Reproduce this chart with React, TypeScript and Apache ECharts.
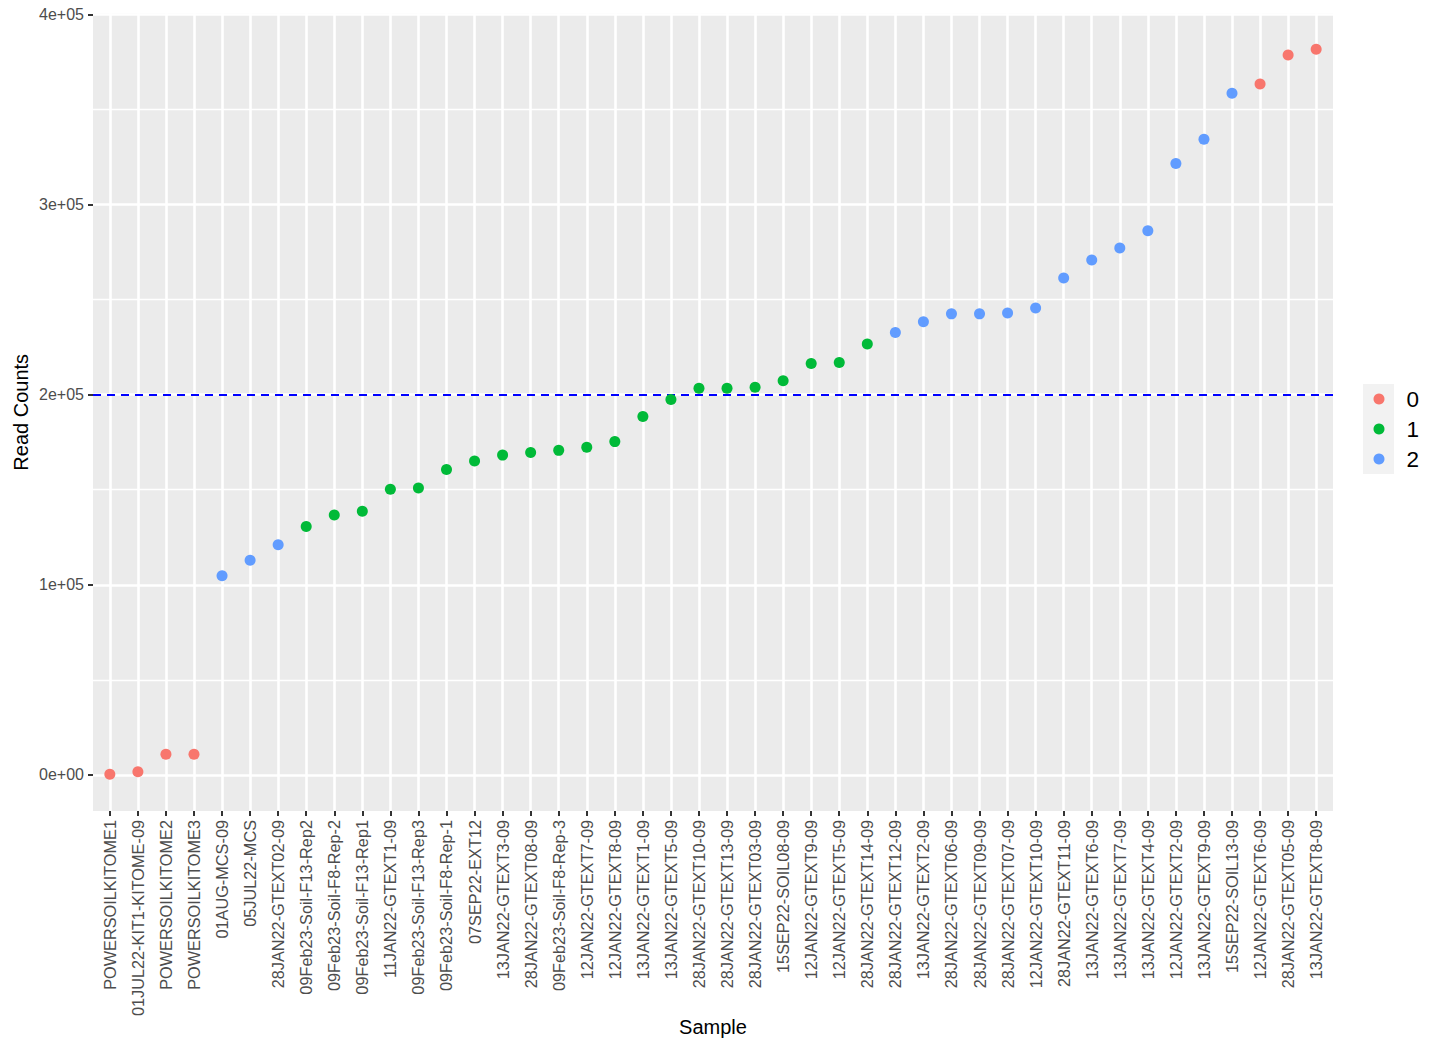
import React, { useEffect, useRef } from "react";
import * as echarts from "echarts";

const categories = [
  "POWERSOILKITOME1",
  "01JUL22-KIT1-KITOME-09",
  "POWERSOILKITOME2",
  "POWERSOILKITOME3",
  "01AUG-MCS-09",
  "05JUL22-MCS",
  "28JAN22-GTEXT02-09",
  "09Feb23-Soil-F13-Rep2",
  "09Feb23-Soil-F8-Rep-2",
  "09Feb23-Soil-F13-Rep1",
  "11JAN22-GTEXT1-09",
  "09Feb23-Soil-F13-Rep3",
  "09Feb23-Soil-F8-Rep-1",
  "07SEP22-EXT12",
  "13JAN22-GTEXT3-09",
  "28JAN22-GTEXT08-09",
  "09Feb23-Soil-F8-Rep-3",
  "12JAN22-GTEXT7-09",
  "12JAN22-GTEXT8-09",
  "13JAN22-GTEXT1-09",
  "13JAN22-GTEXT5-09",
  "28JAN22-GTEXT10-09",
  "28JAN22-GTEXT13-09",
  "28JAN22-GTEXT03-09",
  "15SEP22-SOIL08-09",
  "12JAN22-GTEXT9-09",
  "12JAN22-GTEXT5-09",
  "28JAN22-GTEXT14-09",
  "28JAN22-GTEXT12-09",
  "13JAN22-GTEXT2-09",
  "28JAN22-GTEXT06-09",
  "28JAN22-GTEXT09-09",
  "28JAN22-GTEXT07-09",
  "12JAN22-GTEXT10-09",
  "28JAN22-GTEXT11-09",
  "13JAN22-GTEXT6-09",
  "13JAN22-GTEXT7-09",
  "13JAN22-GTEXT4-09",
  "12JAN22-GTEXT2-09",
  "13JAN22-GTEXT9-09",
  "15SEP22-SOIL13-09",
  "12JAN22-GTEXT6-09",
  "28JAN22-GTEXT05-09",
  "13JAN22-GTEXT8-09",
];

const readCounts = [
  300, 1600, 10900, 10900, 104700, 112900, 121000, 130600, 136700, 138700,
  150200, 150900, 160600, 165100, 168200, 169600, 170700, 172300, 175300, 188550,
  197500, 203400, 203400, 203900, 207300, 216400, 216900, 226700, 232700, 238300,
  242500, 242500, 243000, 245600, 261400, 270800, 277100, 286200, 321600, 334400,
  358600, 363400, 378700, 381700,
];

const groups = [
  0, 0, 0, 0, 2, 2, 2, 1, 1, 1,
  1, 1, 1, 1, 1, 1, 1, 1, 1, 1,
  1, 1, 1, 1, 1, 1, 1, 1, 2, 2,
  2, 2, 2, 2, 2, 2, 2, 2, 2, 2,
  2, 0, 0, 0,
];

const groupNames = ["0", "1", "2"];
const groupColors = ["#F8766D", "#00BA38", "#619CFF"];
const yTickValues = [0, 100000, 200000, 300000, 400000];
const threshold = 200000;

function sciLabel(v: number): string {
  if (!yTickValues.includes(v)) return "";
  if (v === 0) return "0e+00";
  const exp = Math.floor(Math.log10(Math.abs(v)));
  const mant = v / Math.pow(10, exp);
  return `${+mant.toFixed(2)}e+${String(exp).padStart(2, "0")}`;
}

export default function App() {
  const ref = useRef<HTMLDivElement>(null);

  useEffect(() => {
    if (!ref.current) return;
    const chart = echarts.init(ref.current, undefined, { renderer: "svg" });
    const xIdx = categories.map((_, i) => i);

    const series: any[] = groupNames.map((name, g) => ({
      type: "scatter",
      name,
      symbol: "circle",
      symbolSize: 11,
      clip: false,
      itemStyle: { color: groupColors[g], opacity: 1 },
      emphasis: { disabled: true },
      data: readCounts
        .map((v, i) => (groups[i] === g ? [i, v] : null))
        .filter((d) => d !== null),
      z: 3,
    }));
    series[0].markLine = {
      silent: true,
      symbol: ["none", "none"],
      label: { show: false },
      lineStyle: { color: "#0000FF", width: 2, type: [8, 6] },
      data: [{ yAxis: threshold }],
      z: 2,
    };

    chart.setOption({
      animation: false,
      backgroundColor: "#FFFFFF",
      textStyle: { fontFamily: "'Liberation Sans', Arial, sans-serif" },
      grid: {
        left: 93,
        right: 111,
        top: 13.5,
        bottom: 241,
        show: true,
        backgroundColor: "#EBEBEB",
        borderWidth: 0,
        containLabel: false,
        outerBoundsMode: "none",
      },
      legend: {
        orient: "vertical",
        left: 1373.5,
        top: 384,
        padding: 0,
        itemGap: 0,
        itemWidth: 11,
        itemHeight: 11,
        icon: "circle",
        data: groupNames,
        textStyle: {
          fontSize: 22.5,
          color: "#000000",
          lineHeight: 30,
          padding: [0, 0, 0, 17],
        },
      },
      graphic: [
        {
          type: "rect",
          z: -1,
          silent: true,
          shape: { x: 1363, y: 384, width: 31, height: 90 },
          style: { fill: "#F2F2F2" },
        },
      ],
      xAxis: {
        type: "value",
        min: -0.6,
        max: categories.length - 1 + 0.6,
        minInterval: 1,
        maxInterval: 1,
        name: "Sample",
        nameLocation: "middle",
        nameGap: 206,
        nameMoveOverlap: false,
        nameTextStyle: { fontSize: 20, color: "#000000" },
        axisLine: { show: false, onZero: false },
        axisTick: {
          show: true,
          length: 5,
          lineStyle: { color: "#333333", width: 2 },
          customValues: xIdx,
        },
        axisLabel: {
          customValues: xIdx,
          rotate: 90,
          fontSize: 16.3,
          color: "#4D4D4D",
          margin: 9,
          formatter: (v: number) => {
            const r = Math.round(v);
            return Math.abs(r - v) < 1e-6 && categories[r] ? categories[r] : "";
          },
        },
        splitLine: { show: true, lineStyle: { color: "#FFFFFF", width: 2.6 } },
        minorSplitLine: { show: false },
      },
      yAxis: {
        type: "value",
        min: -19000,
        max: 400500,
        minInterval: 100000,
        maxInterval: 100000,
        name: "Read Counts",
        nameLocation: "middle",
        nameGap: 62,
        nameMoveOverlap: false,
        nameTextStyle: { fontSize: 20, color: "#000000" },
        axisLine: { show: false, onZero: false },
        axisTick: {
          show: true,
          length: 5,
          lineStyle: { color: "#333333", width: 2 },
          customValues: yTickValues,
        },
        axisLabel: {
          customValues: yTickValues,
          fontSize: 16,
          color: "#4D4D4D",
          margin: 9,
          formatter: sciLabel,
        },
        splitLine: { show: true, lineStyle: { color: "#FFFFFF", width: 2.6 } },
        minorTick: { show: false, splitNumber: 2 },
        minorSplitLine: { show: true, lineStyle: { color: "#FFFFFF", width: 1.3 } },
      },
      series,
    });

    return () => chart.dispose();
  }, []);

  return (
    <div
      ref={ref}
      style={{ position: "fixed", left: 0, top: 0, width: 1444, height: 1052, background: "#fff" }}
    />
  );
}
